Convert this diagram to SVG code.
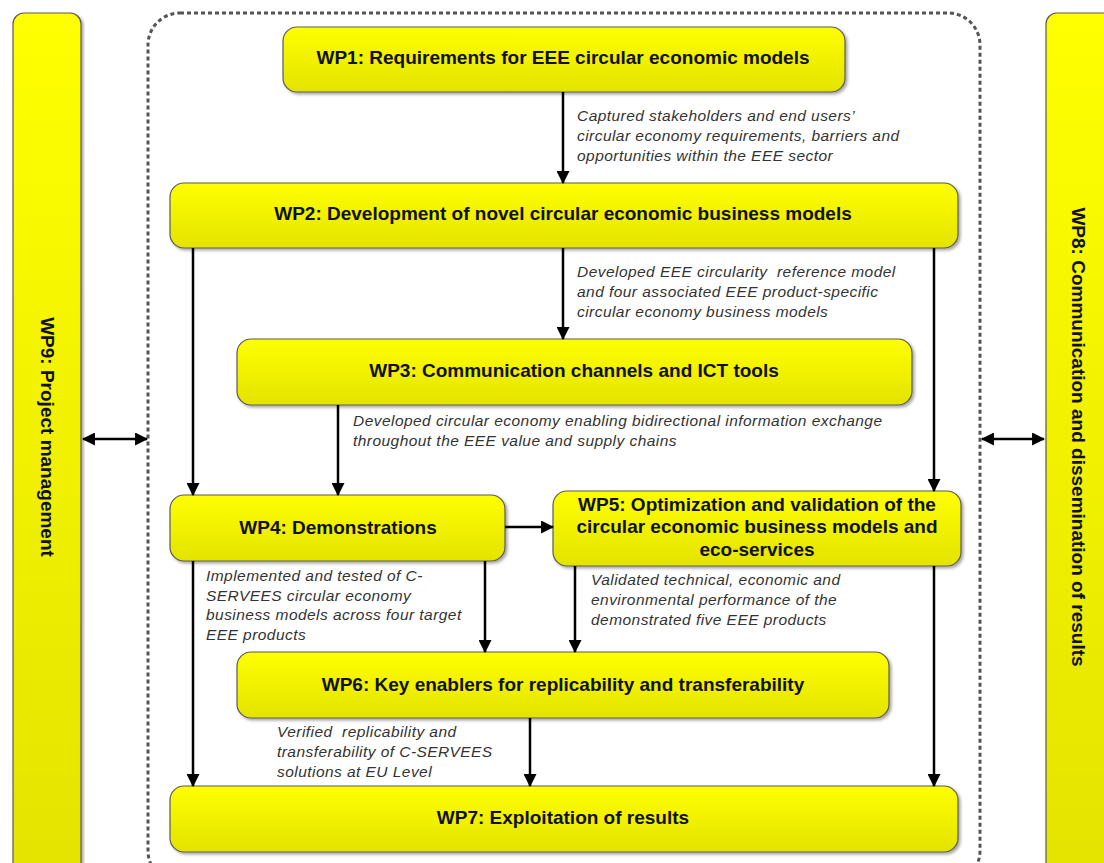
<svg xmlns="http://www.w3.org/2000/svg" width="1104" height="863" viewBox="0 0 1104 863">
<defs>
<linearGradient id="yg" x1="0" y1="0" x2="0" y2="1">
<stop offset="0" stop-color="#ffff00"/>
<stop offset="1" stop-color="#e3e300"/>
</linearGradient>
<filter id="sh" x="-5%" y="-5%" width="110%" height="120%">
<feDropShadow dx="2" dy="2" stdDeviation="1.5" flood-color="#000" flood-opacity="0.35"/>
</filter>
<marker id="ah" viewBox="0 0 12 12" markerWidth="13" markerHeight="13" refX="11" refY="6" orient="auto" markerUnits="userSpaceOnUse">
<path d="M0,0 L12,6 L0,12 Z" fill="#000"/>
</marker>
<marker id="ahs" viewBox="0 0 12 12" markerWidth="13" markerHeight="13" refX="1" refY="6" orient="auto" markerUnits="userSpaceOnUse">
<path d="M12,0 L0,6 L12,12 Z" fill="#000"/>
</marker>
</defs>
<style>
.box{fill:url(#yg);stroke:#5a5a5a;stroke-width:1.2;filter:url(#sh)}
.t{font-family:"Liberation Sans",Arial,sans-serif;font-weight:bold;font-size:19px;fill:#111;text-anchor:middle}
.l{font-family:"Liberation Sans",Arial,sans-serif;font-style:italic;font-size:15.5px;letter-spacing:0.45px;fill:#333;white-space:pre}
.c{stroke:#000;stroke-width:2.5;fill:none;marker-end:url(#ah)}
</style>
<rect width="1104" height="863" fill="#fff"/>
<rect id="container" x="148" y="13" width="832" height="870" rx="32" fill="none" stroke="#555" stroke-width="3" stroke-dasharray="4 3"/>
<g id="wp9">
<rect class="box" x="13" y="13" width="68" height="870" rx="11"/>
<text class="t" transform="translate(47,437) rotate(90)" dominant-baseline="central">WP9: Project management</text>
</g>
<g id="wp8">
<rect class="box" x="1046" y="13" width="80" height="870" rx="11"/>
<text class="t" transform="translate(1078,437) rotate(90)" dominant-baseline="central">WP8: Communication and dissemination of results</text>
</g>
<g id="wp1">
<rect class="box" x="283" y="27" width="562" height="65" rx="14"/>
<text class="t" x="563" y="64">WP1: Requirements for EEE circular economic models</text>
</g>
<g id="wp2">
<rect class="box" x="170" y="183" width="788" height="65" rx="14"/>
<text class="t" x="563" y="220">WP2: Development of novel circular economic business models</text>
</g>
<g id="wp3">
<rect class="box" x="237" y="339" width="675" height="66" rx="14"/>
<text class="t" x="574" y="377">WP3: Communication channels and ICT tools</text>
</g>
<g id="wp4">
<rect class="box" x="170" y="495" width="335" height="66" rx="14"/>
<text class="t" x="338" y="534">WP4: Demonstrations</text>
</g>
<g id="wp5">
<rect class="box" x="553" y="491" width="408" height="75" rx="14"/>
<text class="t" x="757" y="511">WP5: Optimization and validation of the</text>
<text class="t" x="757" y="533">circular economic business models and</text>
<text class="t" x="757" y="556">eco-services</text>
</g>
<g id="wp6">
<rect class="box" x="237" y="652" width="652" height="66" rx="14"/>
<text class="t" x="563" y="691">WP6: Key enablers for replicability and transferability</text>
</g>
<g id="wp7">
<rect class="box" x="170" y="786" width="788" height="66" rx="14"/>
<text class="t" x="563" y="824">WP7: Exploitation of results</text>
</g>
<g id="connectors">
<line class="c" x1="563" y1="92" x2="563" y2="183"/>
<line class="c" x1="563" y1="248" x2="563" y2="339"/>
<line class="c" x1="193" y1="248" x2="193" y2="495"/>
<line class="c" x1="934" y1="248" x2="934" y2="491"/>
<line class="c" x1="338" y1="405" x2="338" y2="495"/>
<line class="c" x1="505" y1="527" x2="553" y2="527"/>
<line class="c" x1="485" y1="561" x2="485" y2="652"/>
<line class="c" x1="575" y1="566" x2="575" y2="652"/>
<line class="c" x1="193" y1="561" x2="193" y2="786"/>
<line class="c" x1="530" y1="718" x2="530" y2="786"/>
<line class="c" x1="934" y1="566" x2="934" y2="786"/>
<line class="c" x1="83" y1="439" x2="147" y2="439" marker-start="url(#ahs)"/>
<line class="c" x1="982" y1="439" x2="1044" y2="439" marker-start="url(#ahs)"/>
</g>
<g id="labels">
<text class="l" x="577" y="121">Captured stakeholders and end users’</text>
<text class="l" x="577" y="141">circular economy requirements, barriers and</text>
<text class="l" x="577" y="161">opportunities within the EEE sector</text>
<text class="l" x="577" y="277" xml:space="preserve">Developed EEE circularity  reference model</text>
<text class="l" x="577" y="297">and four associated EEE product-specific</text>
<text class="l" x="577" y="317">circular economy business models</text>
<text class="l" x="353" y="426">Developed circular economy enabling bidirectional information exchange</text>
<text class="l" x="353" y="446">throughout the EEE value and supply chains</text>
<text class="l" x="206" y="581">Implemented and tested of C-</text>
<text class="l" x="206" y="601">SERVEES circular economy</text>
<text class="l" x="206" y="620">business models across four target</text>
<text class="l" x="206" y="640">EEE products</text>
<text class="l" x="591" y="585">Validated technical, economic and</text>
<text class="l" x="591" y="605">environmental performance of the</text>
<text class="l" x="591" y="625">demonstrated five EEE products</text>
<text class="l" x="277" y="737" xml:space="preserve">Verified  replicability and</text>
<text class="l" x="277" y="757">transferability of C-SERVEES</text>
<text class="l" x="277" y="777">solutions at EU Level</text>
</g>
</svg>
